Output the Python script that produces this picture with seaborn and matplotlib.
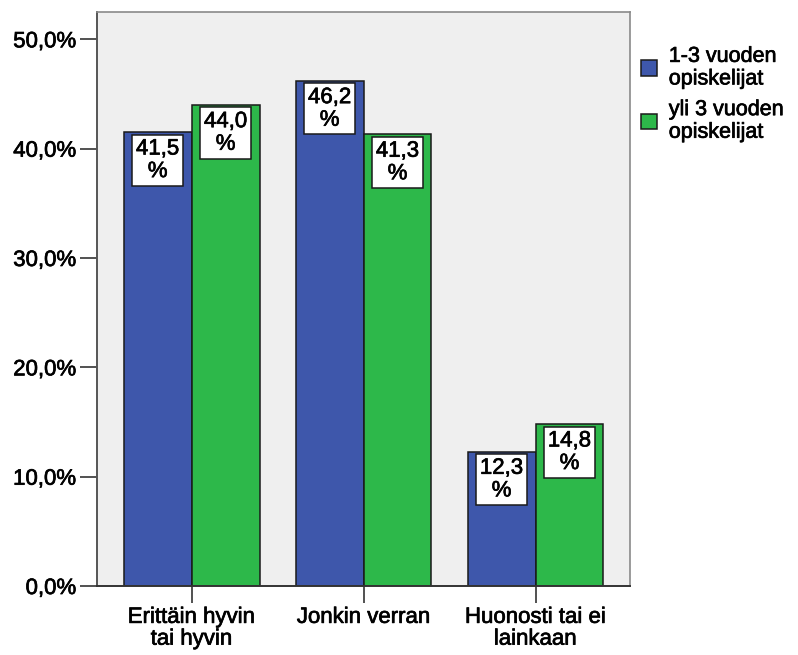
import matplotlib
matplotlib.use("Agg")
import matplotlib.pyplot as plt
import matplotlib.patheffects as pe
import seaborn as sns
import pandas as pd
from matplotlib.ticker import FixedLocator, FuncFormatter
from matplotlib.patches import Patch

categories = ["Erittäin hyvin\ntai hyvin", "Jonkin verran", "Huonosti tai ei\nlainkaan"]
groups = ["1-3 vuoden\nopiskelijat", "yli 3 vuoden\nopiskelijat"]
values_1_3 = [41.5, 46.2, 12.3]
values_over3 = [44.0, 41.3, 14.8]
y_ticks = [0, 10, 20, 30, 40, 50]

colors = ["#3E57AB", "#2DB84A"]

df = pd.DataFrame({
    "kategoria": categories * 2,
    "ryhmä": [groups[0]] * 3 + [groups[1]] * 3,
    "osuus": values_1_3 + values_over3,
})

sns.set_theme(style="white")
plt.rcParams["font.family"] = ["Liberation Sans", "DejaVu Sans"]
plt.rcParams["text.color"] = "black"
plt.rcParams["xtick.color"] = "black"
plt.rcParams["ytick.color"] = "black"

# slightly heavier strokes for all text
heavy = [pe.withStroke(linewidth=0.5, foreground="black")]

fig = plt.figure(figsize=(7.98, 6.55), dpi=100)
ax = fig.add_axes([0.1216, 0.1053, 0.668, 0.8764])
ax.set_facecolor("#EFEFEF")

sns.barplot(data=df, x="kategoria", y="osuus", hue="ryhmä", order=categories,
            hue_order=groups, palette=colors, width=0.79, edgecolor="#1A1A1A",
            linewidth=1.1, saturation=1, ax=ax, legend=False, errorbar=None)

ax.set_xlim(-0.55, 2.55)
ax.set_ylim(0, 52.5)
ax.yaxis.set_major_locator(FixedLocator(y_ticks))
ax.yaxis.set_major_formatter(FuncFormatter(lambda v, p: f"{v:.1f}%".replace(".", ",")))
ax.set_xlabel("")
ax.set_ylabel("")

ax.tick_params(axis="y", which="major", direction="out", length=12, width=1.2,
               color="#333333", labelsize=16, pad=3, left=True, labelcolor="black")
ax.tick_params(axis="x", which="major", direction="out", length=12, width=1.2,
               color="#333333", labelsize=16, pad=3, bottom=True, labelcolor="black")
for lbl in ax.get_xticklabels():
    lbl.set_linespacing(1.05)
    lbl.set_path_effects(heavy)
for lbl in ax.get_yticklabels():
    lbl.set_path_effects(heavy)

for side in ["top", "right"]:
    ax.spines[side].set_color("#8A8A8A")
    ax.spines[side].set_linewidth(1.2)
ax.spines["left"].set_color("#555555")
ax.spines["left"].set_linewidth(1.4)
ax.spines["bottom"].set_color("#333333")
ax.spines["bottom"].set_linewidth(1.4)

for container in ax.containers:
    for bar in container:
        h = bar.get_height()
        cx = bar.get_x() + bar.get_width() / 2
        label = f"{h:.1f}".replace(".", ",") + "\n%"
        ax.annotate(label, xy=(cx, h), xytext=(0, -4.5), textcoords="offset points",
                    ha="center", va="top", fontsize=16, linespacing=1.1,
                    color="black", path_effects=heavy,
                    bbox=dict(boxstyle="square,pad=0.17", facecolor="white",
                              edgecolor="#1A1A1A", linewidth=1.1))

handles = [Patch(facecolor=c, edgecolor="#1A1A1A", linewidth=1.1) for c in colors]
leg = fig.legend(handles, groups, loc="upper left", bbox_to_anchor=(0.803, 0.93),
                 frameon=False, fontsize=15.5, handlelength=0.75, handleheight=0.75,
                 handletextpad=0.55, labelspacing=0.45, borderaxespad=0, borderpad=0)
for t in leg.get_texts():
    t.set_linespacing(1.1)
    t.set_color("black")
    t.set_path_effects(heavy)

fig.savefig("out.png", dpi=100)
